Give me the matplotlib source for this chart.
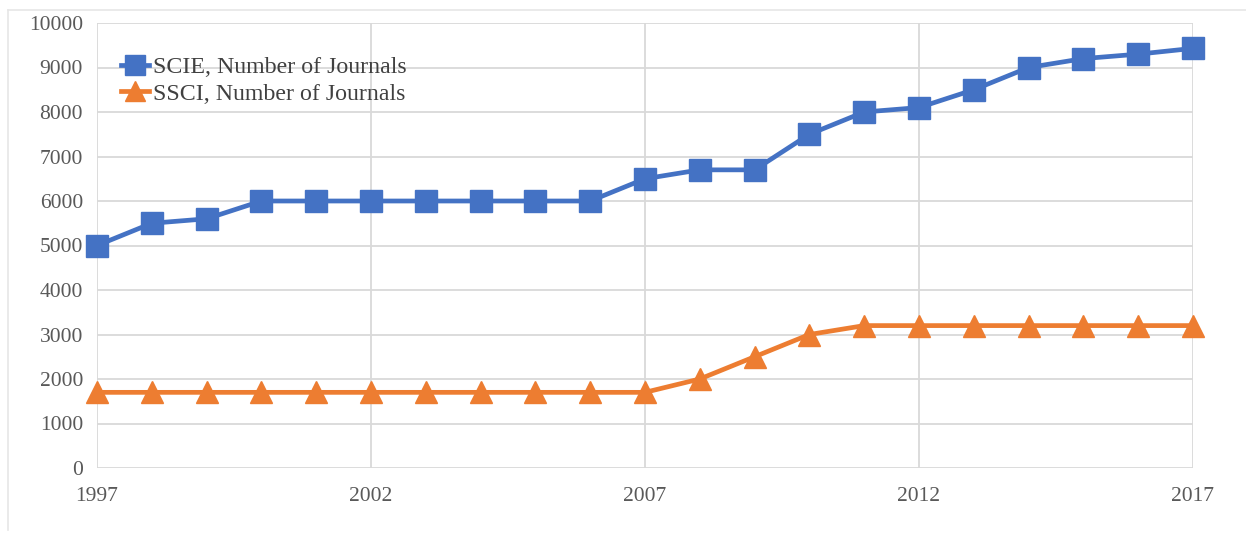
import matplotlib
matplotlib.use("Agg")
import matplotlib.pyplot as plt
from matplotlib.lines import Line2D

years = list(range(1997, 2018))
scie = [5000, 5500, 5600, 6000, 6000, 6000, 6000, 6000, 6000, 6000,
        6500, 6700, 6700, 7500, 8000, 8100, 8500, 9000, 9200, 9300, 9430]
ssci = [1700, 1700, 1700, 1700, 1700, 1700, 1700, 1700, 1700, 1700,
        1700, 2000, 2500, 3000, 3200, 3200, 3200, 3200, 3200, 3200, 3200]
xticks = [1997, 2002, 2007, 2012, 2017]
yticks = list(range(0, 10001, 1000))
labels = ["SCIE, Number of Journals", "SSCI, Number of Journals"]

plt.rcParams['font.family'] = ['Liberation Serif', 'DejaVu Serif']

fig = plt.figure(figsize=(12.46, 5.35), dpi=100)
ax = fig.add_axes([97/1246, 67/535, (1193-97)/1246, (468-23)/535])

blue = '#4472C4'
orange = '#ED7D31'
ax.plot(years, scie, color=blue, lw=3.4, marker='s', ms=16, label=labels[0], zorder=3, clip_on=False)
ax.plot(years, ssci, color=orange, lw=3.4, marker='^', ms=16.5, label=labels[1], zorder=3, clip_on=False)

ax.set_xlim(1997, 2017)
ax.set_ylim(0, 10000)
ax.set_xticks(xticks)
ax.set_yticks(yticks)
ax.grid(True, color='#D9D9D9', lw=1.3)
ax.set_axisbelow(True)
for s in ax.spines.values():
    s.set_visible(False)
ax.tick_params(length=0, labelsize=15.5, colors='#595959')
ax.tick_params(axis='y', pad=10)
ax.tick_params(axis='x', pad=14)

leg = ax.legend(loc='upper left', bbox_to_anchor=(0.013, 0.946), frameon=False,
                fontsize=17.2, handlelength=1.2, handletextpad=0.15, labelspacing=0.2,
                borderaxespad=0, markerscale=0.9)
for t in leg.get_texts():
    t.set_color('#404040')

# figure frame lines (top and left)
fig.add_artist(Line2D([8/1246, 1], [1-10/535, 1-10/535], color='#E6E6E6', lw=1.2, transform=fig.transFigure))
fig.add_artist(Line2D([8/1246, 8/1246], [1-10/535, 5/535], color='#E6E6E6', lw=1.2, transform=fig.transFigure))

fig.savefig('out.png', dpi=100)
